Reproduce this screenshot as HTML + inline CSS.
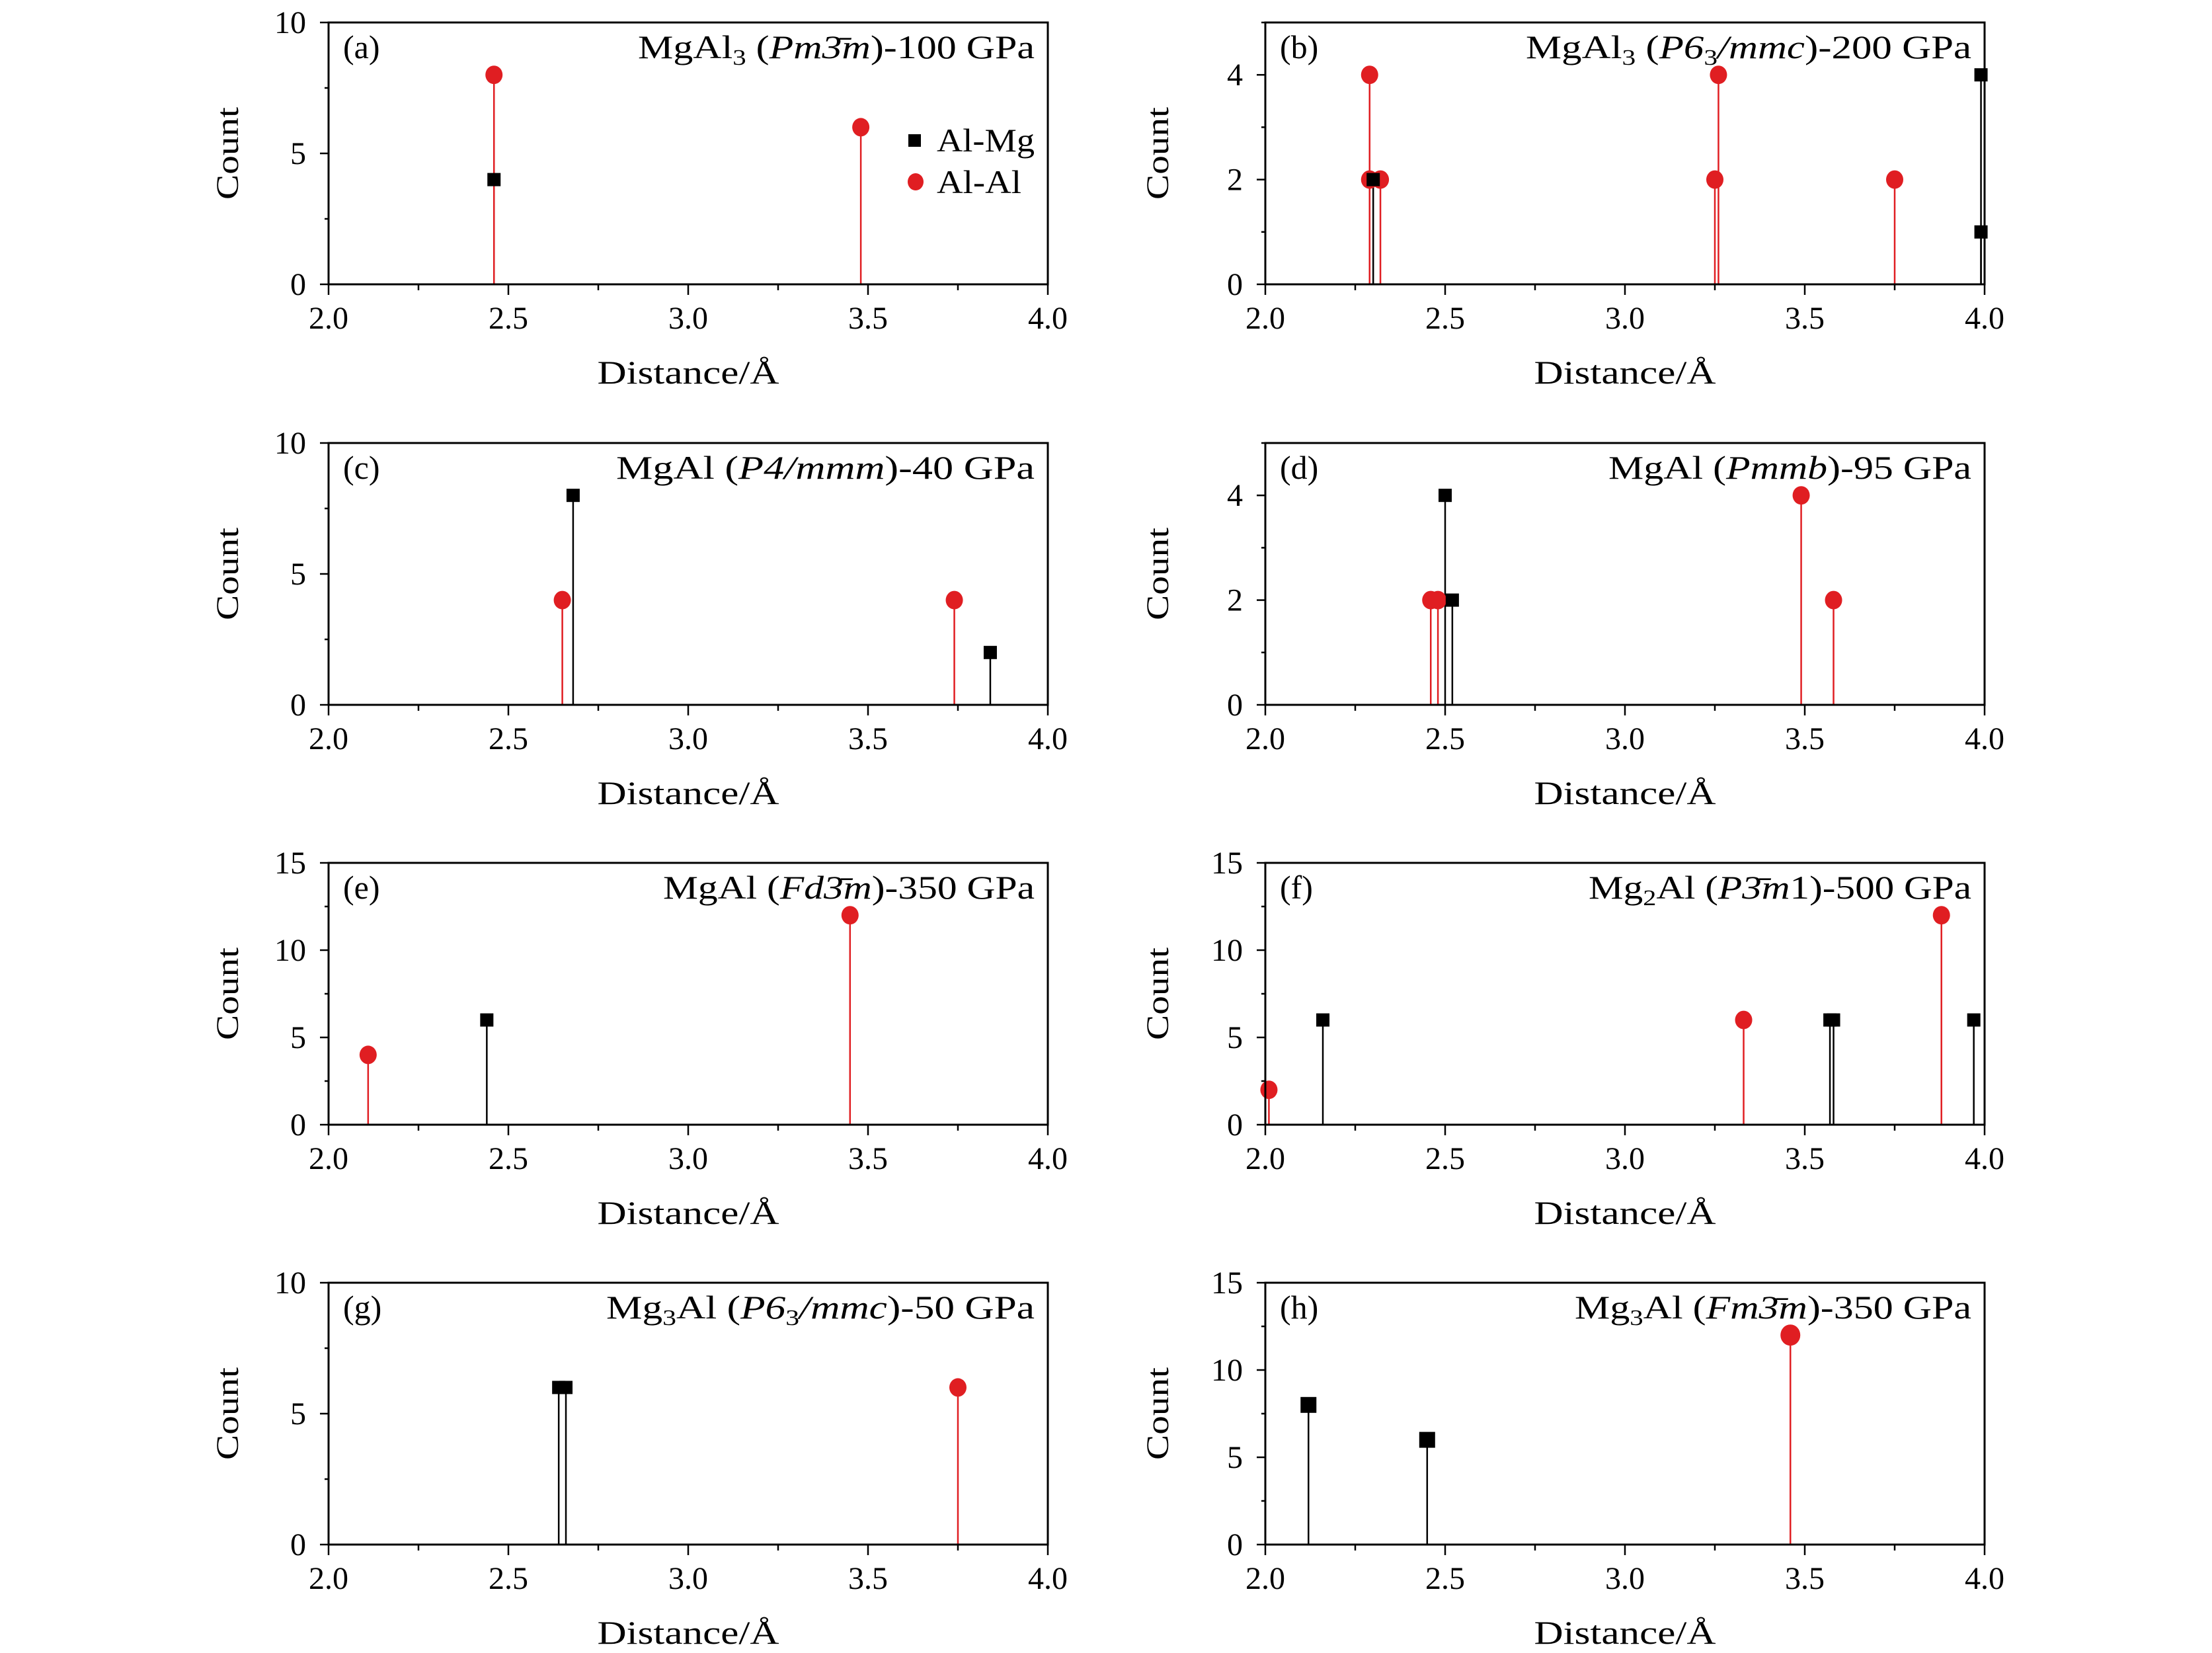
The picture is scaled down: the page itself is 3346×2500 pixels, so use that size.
<!DOCTYPE html>
<html><head><meta charset="utf-8"><style>
html,body{margin:0;padding:0;background:#fff;}
svg{display:block;font-family:"Liberation Serif","DejaVu Serif",serif;}
</style></head><body>
<svg id="fig" width="3346" height="2500" viewBox="0 0 3346 2500" xmlns="http://www.w3.org/2000/svg"></svg>
<script>
// ---- data ----
const panelLetters = ["a","b","c","d","e","f","g","h"];
const panelYMax = [10,5,10,5,15,15,10,15];
const panelYTicks = [[0,5,10],[0,2,4],[0,5,10],[0,2,4],[0,5,10,15],[0,5,10,15],[0,5,10],[0,5,10,15]];
const panelYMinor = [2.5,1,2.5,1,2.5,2.5,2.5,2.5];
const xTickLabels = ["2.0","2.5","3.0","3.5","4.0"];
const xTickValues = [2.0,2.5,3.0,3.5,4.0];
const alMgX = [[2.46],[2.30,3.99,3.99],[2.68,3.84],[2.50,2.52],[2.44],[2.16,3.57,3.58,3.97],[2.64,2.66],[2.12,2.45]];
const alMgY = [[4],[2,4,1],[8,2],[4,2],[6],[6,6,6,6],[6,6],[8,6]];
const alAlX = [[2.46,3.48],[2.29,2.29,2.32,3.25,3.26,3.75],[2.65,3.74],[2.46,2.48,3.49,3.58],[2.11,3.45],[2.01,3.33,3.88],[3.75],[3.46]];
const alAlY = [[8,6],[4,2,2,2,4,2],[4,4],[2,2,4,2],[4,12],[2,6,12],[6],[12]];
const titles = [
 [["MgAl",""],["3","sub"],[" (",""],["Pm3̄m","i"],[")-100 GPa",""]],
 [["MgAl",""],["3","sub"],[" (",""],["P6","i"],["3","sub"],["/mmc","i"],[")-200 GPa",""]],
 [["MgAl (",""],["P4/mmm","i"],[")-40 GPa",""]],
 [["MgAl (",""],["Pmmb","i"],[")-95 GPa",""]],
 [["MgAl (",""],["Fd3̄m","i"],[")-350 GPa",""]],
 [["Mg",""],["2","sub"],["Al (",""],["P3̄m","i"],["1)-500 GPa",""]],
 [["Mg",""],["3","sub"],["Al (",""],["P6","i"],["3","sub"],["/mmc","i"],[")-50 GPa",""]],
 [["Mg",""],["3","sub"],["Al (",""],["Fm3̄m","i"],[")-350 GPa",""]]
];
const titleWidths = [600,674,633,549,562,579,648,600];
// ---- layout ----
const NS="http://www.w3.org/2000/svg";
const svg=document.getElementById("fig");
const colLeft=[497,1914], plotW=1088;
const rowTop=[34,670,1305,1940], plotH=396;
const RED="#e01e22";
function mk(tag,attrs,parent){const e=document.createElementNS(NS,tag);for(const k in attrs)e.setAttribute(k,attrs[k]);(parent||svg).appendChild(e);return e;}

for(let p=0;p<8;p++){
  const L=colLeft[p%2], T=rowTop[Math.floor(p/2)], R=L+plotW, B=T+plotH;
  const ymax=panelYMax[p];
  const xs=v=>L+(v-2)/2*plotW;
  const ys=v=>B-v/ymax*plotH;
  const g=mk("g",{});
  
  
  for(let v=2;v<=4.0001;v+=0.25){
    const major=Math.abs(v*2-Math.round(v*2))<1e-6;
    const t=mk("line",{x1:xs(v),x2:xs(v),y1:B,y2:B+(major?16:9),stroke:"#000","stroke-width":2.5},g);
    
    
  }
  xTickValues.forEach((v,i)=>{
    const t=mk("text",{x:xs(v),y:B+67,"font-size":48,"text-anchor":"middle"},g);
    t.textContent=xTickLabels[i];
    
    
  });
  const mn=panelYMinor[p];
  for(let v=0;v<=ymax+1e-6;v+=mn){
    const major=panelYTicks[p].some(q=>Math.abs(q-v)<1e-6);
    const t=mk("line",{x1:L-(major?13:6),x2:L,y1:ys(v),y2:ys(v),stroke:"#000","stroke-width":2.5},g);
    
    
  }
  panelYTicks[p].forEach(v=>{
    const t=mk("text",{x:L-34,y:ys(v)+16,"font-size":48,"text-anchor":"end"},g);
    t.textContent=String(v);
    
    
  });
  const xl=mk("text",{x:(L+R)/2,y:B+150,"font-size":50,"text-anchor":"middle",textLength:275,lengthAdjust:"spacingAndGlyphs"},g);
  xl.textContent="Distance/Å";
  
  
  const yl=mk("text",{x:0,y:0,"font-size":48,"text-anchor":"middle",textLength:140,lengthAdjust:"spacingAndGlyphs",transform:`translate(${L-142+(p%2?-5:5)},${(T+B)/2}) rotate(-90)`},g);
  yl.textContent="Count";
  
  
  const msz = p===7?24:20, cr = p===7?15:13;
  alMgX[p].forEach((x,i)=>{
    const s=mk("line",{x1:xs(x),x2:xs(x),y1:B,y2:ys(alMgY[p][i]),stroke:"#000","stroke-width":2.5},g);
    
    
  });
  alAlX[p].forEach((x,i)=>{
    const s=mk("line",{x1:xs(x),x2:xs(x),y1:B,y2:ys(alAlY[p][i]),stroke:RED,"stroke-width":2.5},g);
    
    
  });
  alAlX[p].forEach((x,i)=>{
    const c=mk("ellipse",{cx:xs(x),cy:ys(alAlY[p][i]),rx:cr,ry:cr+1,fill:RED},g);
    
    
  });
  alMgX[p].forEach((x,i)=>{
    const r=mk("rect",{x:xs(x)-msz/2,y:ys(alMgY[p][i])-msz/2,width:msz,height:msz,fill:"#000"},g);
    
    
  });
  const fr=mk("rect",{x:L,y:T,width:plotW,height:plotH,fill:"none",stroke:"#000","stroke-width":3},g);
  
  
  const lab=mk("text",{x:L+22,y:T+54,"font-size":50},g);
  lab.textContent="("+panelLetters[p]+")";
  
  
  const tt=mk("text",{x:R-20-titleWidths[p],y:T+54,"font-size":50,textLength:titleWidths[p],lengthAdjust:"spacingAndGlyphs"},g);
  
  
  let prevSub=false;
  titles[p].forEach(([s,st])=>{
    const ts=mk("tspan",{},tt);
    if(st==="i")ts.setAttribute("font-style","italic");
    if(st==="sub"){ts.setAttribute("font-size","34");ts.setAttribute("dy","10");}
    else if(prevSub){ts.setAttribute("dy","-10");}
    ts.textContent=s;
    prevSub=(st==="sub");
  });
  if(p===0){
    const lg=mk("g",{},g);
    
    
    const sq=mk("rect",{x:1374,y:203,width:19,height:19,fill:"#000"},lg);
    
    
    const t1=mk("text",{x:1417,y:229,"font-size":50,textLength:148,lengthAdjust:"spacingAndGlyphs"},lg);
    t1.textContent="Al-Mg";
    
    
    const ci=mk("ellipse",{cx:1385,cy:275,rx:12,ry:13,fill:RED},lg);
    
    
    const t2=mk("text",{x:1417,y:292,"font-size":50,textLength:128,lengthAdjust:"spacingAndGlyphs"},lg);
    t2.textContent="Al-Al";
    
    
  }
}
</script>
</body></html>
